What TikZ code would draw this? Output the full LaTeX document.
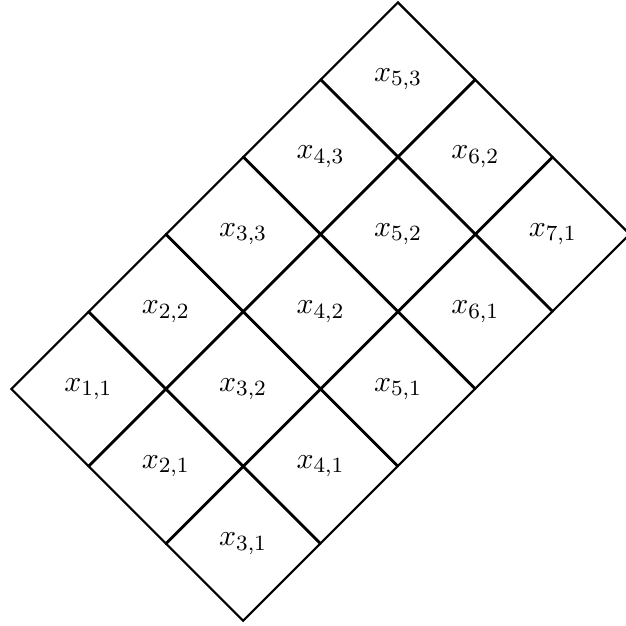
\documentclass[tikz,border=0pt]{standalone}
\usepackage{tikz}
\usetikzlibrary{shapes.geometric}

\tikzset{
  cell/.style={
    draw=black,
    thick, diamond,
    aspect=1,
    inner sep=0pt,
    minimum size=2cm,
    font=\fontsize{11}{13}\selectfont
  }
}

\begin{document}
\begin{tikzpicture}

\useasboundingbox (-0.142,-3.062) rectangle (7.946,5.026);

% three rows of five cells, row r runs up to the right
\foreach \r in {1,2,3} {
  \foreach \p in {1,...,5} {
    \pgfmathtruncatemacro{\i}{\p+\r-1}
    \pgfmathtruncatemacro{\j}{min(\p,4-\r)}
    \pgfmathtruncatemacro{\y}{\p-\r}
    \node [cell] (x-\i-\j) at (\i,\y) {$x_{\i,\j}$};
  }
}

\end{tikzpicture}
\end{document}
